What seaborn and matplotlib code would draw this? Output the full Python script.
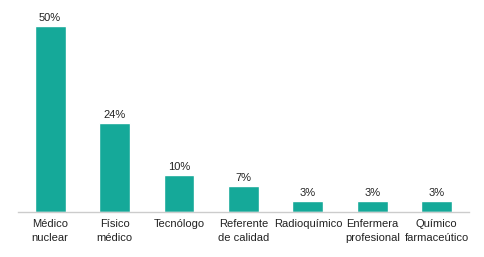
import matplotlib
matplotlib.use("Agg")
import matplotlib.pyplot as plt
import seaborn as sns
import pandas as pd

categories = ["Médico\nnuclear", "Físico\nmédico", "Tecnólogo", "Referente\nde calidad",
              "Radioquímico", "Enfermera\nprofesional", "Químico\nfarmaceútico"]
values = [50, 24, 10, 7, 3, 3, 3]
value_labels = ["50%", "24%", "10%", "7%", "3%", "3%", "3%"]

sns.set_theme(style="white")
plt.rcParams['font.family'] = ['Liberation Sans', 'DejaVu Sans']

df = pd.DataFrame({"cat": categories, "val": values})
fig = plt.figure(figsize=(4.84, 2.57), dpi=100)
ax = fig.add_axes([0.037, 0.175, 0.932, 0.825])
sns.barplot(data=df, x="cat", y="val", color="#15A999", saturation=1, width=0.48, ax=ax)
for i, (v, lab) in enumerate(zip(values, value_labels)):
    ax.text(i, v + 0.7, lab, ha="center", va="bottom", fontsize=8, color="#222222")
ax.set_xlim(-0.5, 6.5)
ax.set_ylim(0, 57)
ax.set_xlabel("")
ax.set_ylabel("")
ax.set_yticks([])
for s in ["top", "right", "left"]:
    ax.spines[s].set_visible(False)
ax.spines["bottom"].set_color("#cccccc")
ax.spines["bottom"].set_linewidth(1)
ax.tick_params(axis="x", length=0, pad=5, labelsize=8, colors="#222222")
for t in ax.get_xticklabels():
    t.set_linespacing(1.45)
fig.savefig("out.png", dpi=100)
